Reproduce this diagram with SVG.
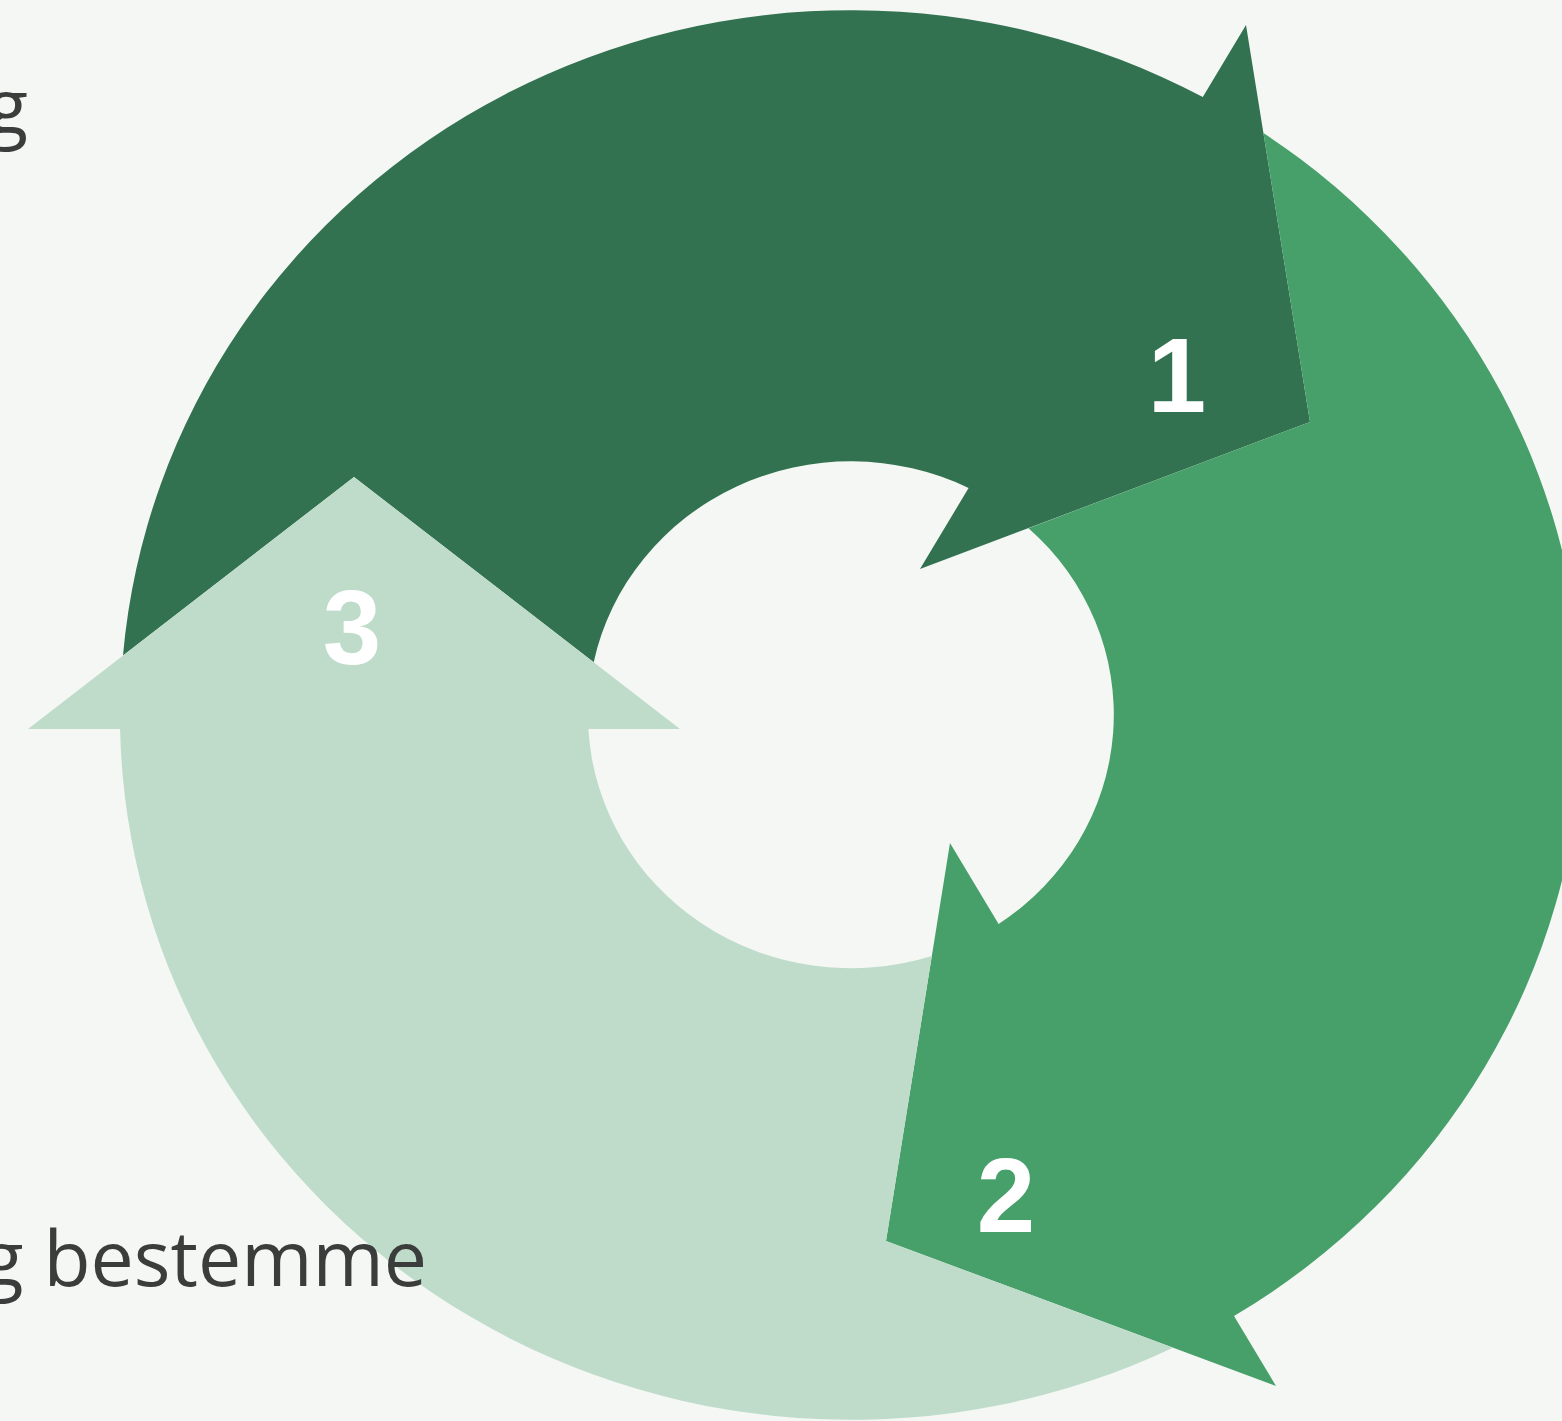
<svg xmlns="http://www.w3.org/2000/svg" width="1562" height="1421" viewBox="0 0 1562 1421">
  <style>
    .num { font-family: "Liberation Sans", Arial, sans-serif; font-weight: bold; font-size: 105px; fill: #ffffff; text-anchor: middle; }
    .frag { font-family: "Open Sans", "Noto Sans", sans-serif; font-size: 77px; fill: #3b3d3c; text-anchor: end; }
    .a1 { fill: #327250; }
    .a2 { fill: #47a06a; }
    .a3 { fill: #bfdccb; }
  </style>
  <rect x="0" y="0" width="1562" height="1421" fill="#f5f7f4"/>
  <g id="connectors"></g>
  <g id="node1">
    <path class="a1" d="M123,655.6 A731,705 0 0 1 1202.8,97 L1246,25 L1310,422 L920,569 L968.6,488 A263,253 0 0 0 593.7,662.2 L354,477 Z"/>
    <text class="num" x="1177" y="412">1</text>
  </g>
  <g id="node2">
    <path class="a2" d="M1263.4,133 A731,705 0 0 1 1234,1316 L1276,1386 L886,1241 L950,843 L998.6,924 A263,253 0 0 0 1028.5,528.2 L1310,422 Z"/>
    <text class="num" x="1006" y="1232">2</text>
  </g>
  <g id="node3">
    <path class="a3" d="M1173,1347.7 A731,705 0 0 1 120.1,729 L28,729 L354,477 L680,729 L588.4,729 A263,253 0 0 0 931.8,955.9 L886,1241 Z"/>
    <text class="num" x="352" y="664">3</text>
  </g>
  <g id="fragments">
    <text class="frag" x="28" y="134">g</text>
    <text class="frag" x="427" y="1286">g bestemme</text>
  </g>
</svg>
